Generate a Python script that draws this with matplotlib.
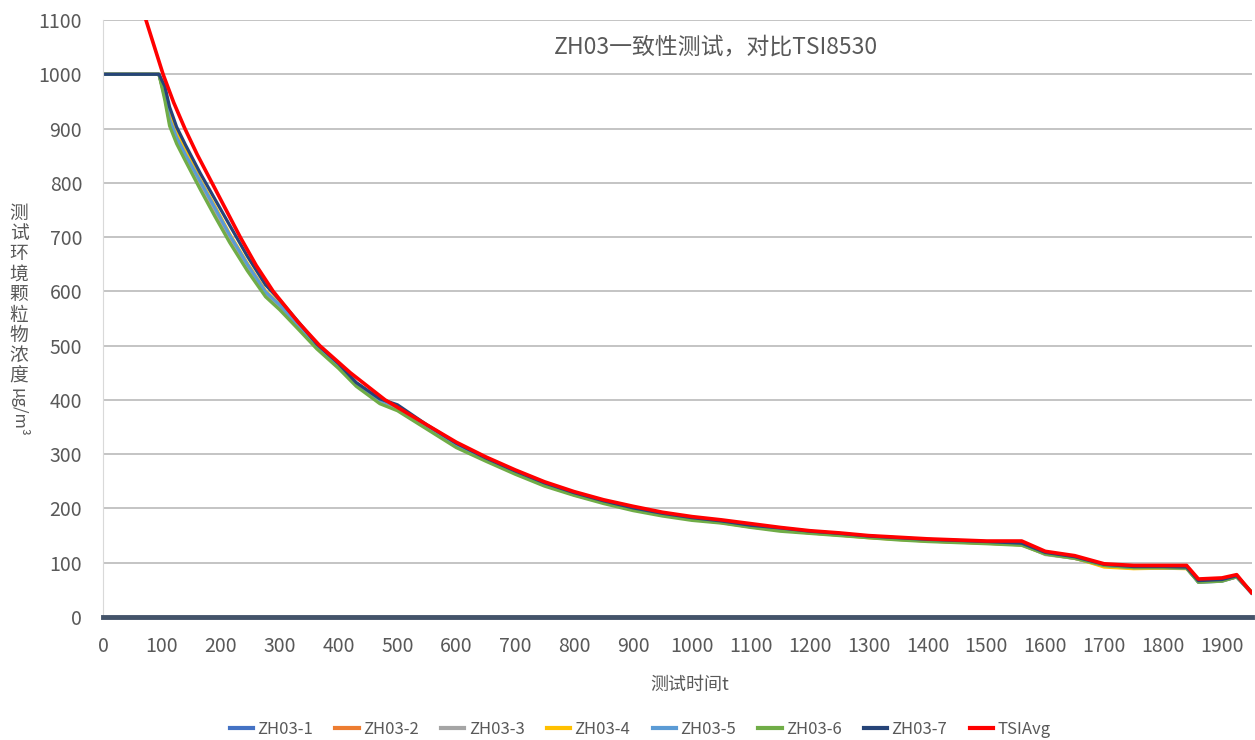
import matplotlib
matplotlib.use("Agg")
import matplotlib.pyplot as plt

plt.rcParams['font.family'] = ['Noto Sans CJK SC', 'DejaVu Sans']

# -----------------------
# Data
# -----------------------
x_s = [0, 95, 105, 113, 125, 140, 165, 190, 215, 245,
       276, 300, 330, 363, 400, 430, 470, 500, 550, 600,
       650, 700, 750, 800, 850, 900, 950, 1000, 1050, 1100,
       1150, 1200, 1250, 1300, 1350, 1400, 1450, 1500, 1560, 1600,
       1650, 1700, 1750, 1800, 1840, 1860, 1900, 1925, 1950]

zh03_1 = [1000, 1000, 962, 918, 885, 852, 802, 752, 703, 648,
          598, 574, 539, 499, 463, 429, 399, 386, 351, 317,
          291, 267, 245, 227, 212, 199, 189, 181, 175, 167,
          161, 156, 152, 147, 144, 141, 139, 137, 134, 117,
          109, 95, 91, 91, 90, 64, 66, 74, 44]
zh03_2 = [1000, 1000, 958, 912, 878, 846, 795, 748, 698, 645,
          596, 571, 536, 496, 460, 427, 396, 384, 349, 315,
          289, 266, 244, 226, 211, 198, 188, 180, 174, 166,
          160, 155, 151, 147, 143, 140, 138, 136, 133, 116,
          108, 94, 90, 90, 90, 65, 67, 74, 46]
zh03_3 = [1000, 1000, 960, 915, 882, 850, 800, 750, 701, 647,
          597, 572, 538, 498, 462, 428, 395, 382, 348, 316,
          290, 266, 245, 227, 212, 199, 189, 181, 175, 167,
          161, 156, 152, 147, 144, 141, 139, 137, 134, 115,
          108, 95, 91, 91, 90, 65, 67, 75, 46]
zh03_4 = [1000, 1000, 968, 928, 893, 860, 806, 757, 706, 652,
          601, 576, 540, 500, 466, 431, 401, 388, 352, 318,
          291, 266, 243, 225, 211, 198, 188, 180, 174, 166,
          160, 155, 151, 146, 143, 140, 138, 136, 133, 117,
          109, 92, 89, 90, 89, 66, 68, 76, 47]
zh03_5 = [1000, 1000, 961, 917, 884, 852, 803, 754, 704, 650,
          599, 575, 539, 500, 464, 430, 400, 387, 350, 317,
          291, 267, 245, 227, 212, 199, 189, 181, 175, 167,
          161, 156, 152, 147, 144, 141, 139, 137, 134, 117,
          109, 95, 91, 91, 90, 65, 67, 74, 45]
zh03_6 = [1000, 1000, 952, 905, 872, 840, 788, 738, 690, 638,
          590, 566, 532, 494, 458, 425, 393, 380, 346, 312,
          287, 263, 241, 224, 209, 196, 186, 178, 173, 165,
          158, 154, 150, 146, 142, 139, 137, 135, 132, 116,
          108, 95, 91, 91, 90, 64, 66, 74, 45]
zh03_7 = [1000, 1000, 978, 940, 903, 870, 818, 770, 722, 665,
          612, 584, 546, 503, 467, 432, 402, 391, 354, 320,
          293, 269, 247, 229, 214, 201, 191, 183, 177, 169,
          164, 158, 154, 149, 146, 143, 141, 139, 136, 119,
          111, 97, 93, 93, 92, 67, 69, 76, 46]

x_tsi = [70, 102, 120, 139, 160, 185, 210, 233, 260, 289,
         330, 368, 420, 479, 550, 600, 650, 700, 750, 800,
         850, 900, 950, 1000, 1050, 1100, 1150, 1200, 1250, 1300,
         1350, 1400, 1450, 1500, 1560, 1600, 1650, 1700, 1750, 1800,
         1840, 1860, 1900, 1925, 1950]
tsi_avg = [1110, 1000, 948, 900, 852, 800, 748, 700, 648, 600,
           545, 500, 450, 400, 354, 322, 295, 271, 249, 231,
           216, 204, 193, 185, 179, 172, 165, 159, 155, 150,
           147, 144, 142, 140, 140, 121, 113, 98, 95, 95,
           95, 70, 72, 78, 45]

sensor_names = ["ZH03-1", "ZH03-2", "ZH03-3", "ZH03-4", "ZH03-5", "ZH03-6", "ZH03-7"]
sensor_data = [zh03_1, zh03_2, zh03_3, zh03_4, zh03_5, zh03_6, zh03_7]
colors = ["#4472C4", "#ED7D31", "#A5A5A5", "#FFC000", "#5B9BD5", "#70AD47", "#264478"]

x_ticks = list(range(0, 2000, 100))
y_ticks = list(range(0, 1200, 100))

title = "ZH03一致性测试，对比TSI8530"
x_label = "测试时间t"
y_label_cn = "测试环境颗粒物浓度"
y_label_unit = "μg/m³"

# -----------------------
# Plot
# -----------------------
fig = plt.figure(figsize=(12.55, 7.4), dpi=100)
ax = fig.add_axes([103 / 1255, 1 - 617 / 740, (1252 - 103) / 1255, (617 - 20) / 740])

for name, ys, c in zip(sensor_names, sensor_data, colors):
    ax.plot(x_s, ys, color=c, lw=2.3, label=name, solid_joinstyle="round")
ax.plot(x_tsi, tsi_avg, color="#FF0000", lw=2.6, label="TSIAvg",
        solid_joinstyle="round")

ax.set_xlim(0, 1951)
ax.set_ylim(0, 1100)
ax.set_xticks(x_ticks)
ax.set_yticks(y_ticks)
ax.tick_params(axis="both", length=0, labelsize=14, labelcolor="#595959")
ax.tick_params(axis="y", pad=15)
ax.tick_params(axis="x", pad=14)

ax.grid(axis="y", color="#BFBFBF", lw=1.3)
ax.set_axisbelow(True)
for s in ["top", "right"]:
    ax.spines[s].set_visible(False)
ax.spines["left"].set_color("#D9D9D9")
ax.spines["bottom"].set_color("#44546A")
ax.spines["bottom"].set_linewidth(3.5)

ax.text((716 - 103) / 1149, 0.955, title, transform=ax.transAxes, ha="center",
        va="center", fontsize=16.5, color="#595959")

fig.text(690 / 1255, 1 - 685 / 740, x_label, ha="center", va="center",
         fontsize=13, color="#595959")

# vertical y label: stacked characters plus rotated unit
for i, ch in enumerate(y_label_cn):
    fig.text(19 / 1255, 1 - (213 + i * 20.4) / 740, ch, ha="center", va="center",
             fontsize=13.5, color="#595959")
fig.text(19 / 1255, 1 - 412 / 740, y_label_unit, ha="center", va="center",
         rotation=270, fontsize=12, color="#595959")

leg = fig.legend(loc="center", bbox_to_anchor=(640 / 1255, 1 - 729 / 740), ncol=8,
                 frameon=False, fontsize=12, handlelength=1.4, handletextpad=0.25,
                 columnspacing=1.35)
for t in leg.get_texts():
    t.set_color("#595959")
for h in leg.legend_handles:
    h.set_linewidth(3)

fig.savefig("out.png", dpi=100)
